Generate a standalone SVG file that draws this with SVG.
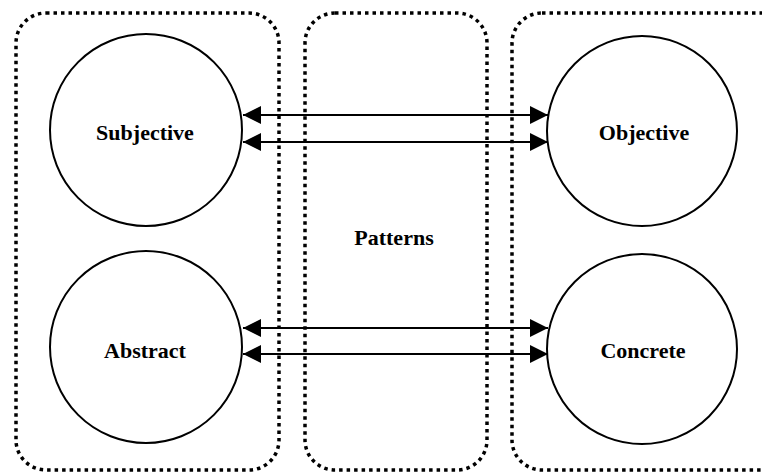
<svg xmlns="http://www.w3.org/2000/svg" width="762" height="473" viewBox="0 0 762 473">
<style>
.grp{fill:none;stroke:#000;stroke-width:3.5;stroke-dasharray:3.5 4}
.node circle{fill:#fff;stroke:#000;stroke-width:2}
.lbl{font-family:"Liberation Serif",serif;font-weight:bold;font-size:22px;text-anchor:middle;fill:#000}
.conn line{stroke:#000;stroke-width:2;marker-start:url(#ah);marker-end:url(#ah)}
</style>
<defs>
<marker id="ah" viewBox="0 0 10 10" refX="10" refY="5" markerWidth="9" markerHeight="9" markerUnits="strokeWidth" orient="auto-start-reverse">
<path d="M0,0 L10,5 L0,10 z" fill="#000"/>
</marker>
</defs>
<g id="group-left"><rect class="grp" x="16" y="13" width="263" height="457" rx="30"/></g>
<g id="group-patterns"><rect class="grp" x="305" y="13" width="182" height="457" rx="30"/><text class="lbl" x="394" y="245">Patterns</text></g>
<g id="group-right"><rect class="grp" x="512" y="13" width="280" height="457" rx="30"/></g>
<g class="node" id="subjective"><circle cx="146" cy="130" r="96"/><text class="lbl" x="145" y="140">Subjective</text></g>
<g class="node" id="abstract"><circle cx="146" cy="347" r="96"/><text class="lbl" x="145" y="358">Abstract</text></g>
<g class="node" id="objective"><circle cx="642" cy="131" r="95"/><text class="lbl" x="644" y="140">Objective</text></g>
<g class="node" id="concrete"><circle cx="642" cy="349" r="95"/><text class="lbl" x="643" y="358">Concrete</text></g>
<g class="conn" id="connectors">
<line x1="243" y1="115" x2="548" y2="115"/>
<line x1="243" y1="142" x2="548" y2="142"/>
<line x1="243" y1="328" x2="548" y2="328"/>
<line x1="243" y1="354" x2="548" y2="354"/>
</g>
</svg>
